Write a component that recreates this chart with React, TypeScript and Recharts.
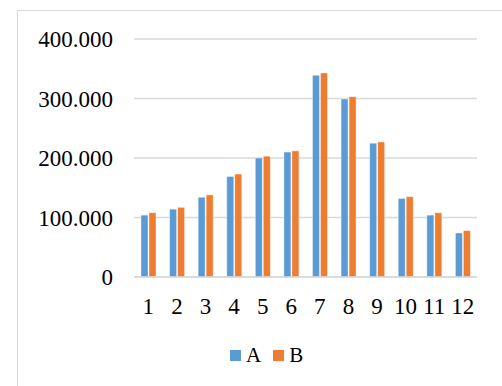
import React from 'react'
import { BarChart, Bar, XAxis, YAxis, CartesianGrid } from 'recharts'

// monthly values for both series
const months = ['1', '2', '3', '4', '5', '6', '7', '8', '9', '10', '11', '12']
const seriesA = [104000, 114000, 134000, 169000, 200000, 210000, 339000, 299000, 225000, 132000, 104000, 74000]
const seriesB = [108000, 117000, 138000, 173000, 203000, 212000, 343000, 303000, 227000, 135000, 108000, 78000]
const yTicks = [0, 100000, 200000, 300000, 400000]

const BLUE = '#5B9BD5'
const ORANGE = '#ED7D31'
const FONT = "'Times New Roman', 'Liberation Serif', Times, serif"

const data = months.map((m, i) => ({ month: m, A: seriesA[i], B: seriesB[i] }))

function fmtThousands(v: number) {
  return String(v).replace(/\B(?=(\d{3})+(?!\d))/g, '.')
}

function LegendBox() {
  const items = [
    { name: 'A', color: BLUE },
    { name: 'B', color: ORANGE },
  ]
  return (
    <div style={{ display: 'flex', alignItems: 'center', fontFamily: FONT, fontSize: 21, color: '#000', lineHeight: 1 }}>
      {items.map(it => (
        <span key={it.name} style={{ display: 'flex', alignItems: 'center', marginRight: 12 }}>
          <span style={{ width: 11, height: 11, backgroundColor: it.color, display: 'inline-block', marginRight: 5 }} />
          {it.name}
        </span>
      ))}
    </div>
  )
}

export default function App() {
  return (
    <div style={{ position: 'absolute', left: 0, top: 0, width: 502, height: 386, background: '#fff', overflow: 'hidden' }}>
      {/* chart frame, runs off the right and bottom edges */}
      <div style={{
        position: 'absolute',
        left: 17,
        top: 10,
        width: 520,
        height: 420,
        border: '1.5px solid #d9d9d9',
        boxSizing: 'border-box',
      }} />
      <div style={{ position: 'absolute', left: 0, top: 0 }}>
        <BarChart
          width={502}
          height={386}
          data={data}
          margin={{ top: 39, right: 25, left: 0, bottom: 0 }}
          barSize={7}
          barGap={1}
          style={{ fontFamily: FONT }}
        >
          <CartesianGrid vertical={false} stroke="#d9d9d9" strokeWidth={1.3} />
          <XAxis
            dataKey="month"
            interval={0}
            height={109}
            axisLine={{ stroke: '#d9d9d9', strokeWidth: 1.5 }}
            tickLine={false}
            tickMargin={15}
            tick={{ fontSize: 23, fill: '#000' }}
          />
          <YAxis
            width={134}
            domain={[0, 400000]}
            ticks={yTicks}
            axisLine={false}
            tickLine={false}
            tickMargin={15}
            tickFormatter={fmtThousands}
            tick={{ fontSize: 23, fill: '#000' }}
          />
          <Bar dataKey="A" fill={BLUE} stroke="#fff" strokeWidth={0.4} isAnimationActive={false} />
          <Bar dataKey="B" fill={ORANGE} stroke="#fff" strokeWidth={0.4} isAnimationActive={false} />
        </BarChart>
      </div>
      {/* legend */}
      <div style={{ position: 'absolute', left: 230, top: 345 }}>
        <LegendBox />
      </div>
    </div>
  )
}
